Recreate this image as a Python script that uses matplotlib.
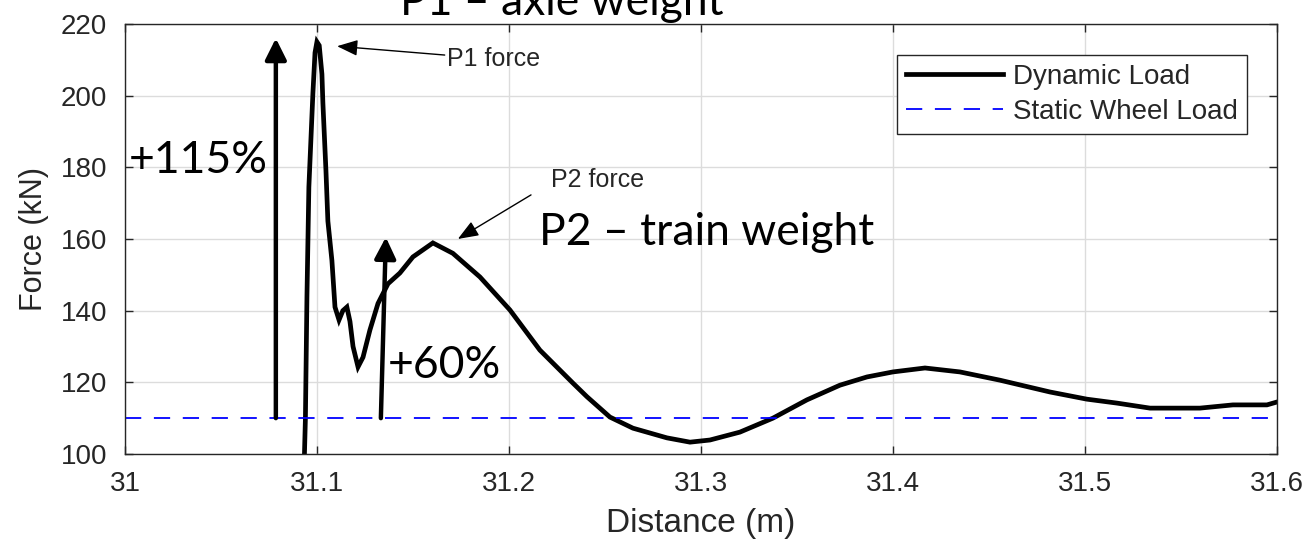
import matplotlib
matplotlib.use("Agg")
import matplotlib.pyplot as plt

# Dynamic wheel load (distance in m, force in kN)
distance = [31.0930, 31.0935, 31.0940, 31.0948, 31.0958, 31.0979, 31.0990, 31.1000,
            31.1012, 31.1026, 31.1031, 31.1047, 31.1057, 31.1078, 31.1094, 31.1115,
            31.1135, 31.1156, 31.1172, 31.1188, 31.1214, 31.1240, 31.1276, 31.1318,
            31.1370, 31.1432, 31.1500, 31.1604, 31.1708, 31.1849, 31.2005, 31.2161,
            31.2333, 31.2406, 31.2526, 31.2646, 31.2823, 31.2943, 31.3047, 31.3203,
            31.3375, 31.3552, 31.3724, 31.3865, 31.4000, 31.4167, 31.4349, 31.4557,
            31.4818, 31.5010, 31.5167, 31.5339, 31.5599, 31.5771, 31.5948, 31.6000]
dynamic_load = [95.0, 100.0, 110.0, 144.0, 174.5, 200.7, 212.0, 215.0,
                214.0, 206.0, 198.0, 179.0, 165.0, 154.0, 141.0, 137.4,
                140.0, 141.0, 137.0, 130.0, 124.3, 127.0, 134.6, 142.0,
                147.5, 150.5, 155.0, 158.9, 156.0, 149.4, 140.2, 129.0,
                119.8, 116.0, 110.3, 107.2, 104.5, 103.3, 103.9, 106.1,
                110.0, 115.1, 119.2, 121.5, 122.9, 124.0, 122.9, 120.6,
                117.3, 115.3, 114.2, 112.8, 112.8, 113.7, 113.7, 114.5]
static_load = 110.0

x_ticks = [31, 31.1, 31.2, 31.3, 31.4, 31.5, 31.6]
x_tick_labels = ["31", "31.1", "31.2", "31.3", "31.4", "31.5", "31.6"]
y_ticks = [100, 120, 140, 160, 180, 200, 220]

axis_font = "Liberation Sans"
note_font = ["Lato", "DejaVu Sans"]
dark = "#262626"

fig = plt.figure(figsize=(13.11, 5.45), dpi=100)
ax = fig.add_axes([0.0953, 0.167, 0.8787, 0.789])

ax.plot(distance, dynamic_load, color="black", lw=3.4, label="Dynamic Load",
        solid_joinstyle="miter")
ax.axhline(static_load, color="blue", lw=1.3, dashes=(9, 7), label="Static Wheel Load")

ax.set_xlim(31, 31.6)
ax.set_ylim(100, 220)
ax.set_xticks(x_ticks)
ax.set_xticklabels(x_tick_labels)
ax.set_yticks(y_ticks)
ax.grid(True, color="#dcdcdc", lw=1)
ax.set_axisbelow(True)
ax.tick_params(direction="in", length=6, width=1, color=dark, top=True, right=True,
               labelsize=20, labelcolor=dark)
ax.tick_params(axis="x", pad=12)
ax.tick_params(axis="y", pad=13)
for lbl in ax.get_xticklabels() + ax.get_yticklabels():
    lbl.set_fontfamily(axis_font)
for sp in ax.spines.values():
    sp.set_color(dark)
    sp.set_linewidth(1)

ax.set_xlabel("Distance (m)", fontsize=24, color=dark, family=axis_font, labelpad=8)
ax.set_ylabel("Force (kN)", fontsize=22, color=dark, family=axis_font, labelpad=8)

leg = ax.legend(loc="upper right", bbox_to_anchor=(0.974, 0.928), borderaxespad=0,
                fancybox=False, framealpha=1, edgecolor=dark, handlelength=3.5,
                handletextpad=0.36, labelspacing=0.32, borderpad=0.32,
                prop={"family": axis_font, "size": 20})
leg.get_frame().set_linewidth(1)
for t in leg.get_texts():
    t.set_color(dark)

# big percentage arrows
ax.annotate("", xy=(31.0786, 216), xytext=(31.0786, 110),
            arrowprops=dict(arrowstyle="-|>", lw=3.2, color="black", mutation_scale=32,
                            shrinkA=0, shrinkB=0))
ax.annotate("", xy=(31.1359, 160.5), xytext=(31.1333, 110),
            arrowprops=dict(arrowstyle="-|>", lw=3.2, color="black", mutation_scale=32,
                            shrinkA=0, shrinkB=0))
ax.text(31.002, 182, "+115%", fontsize=32, family=note_font, va="center", ha="left")
ax.text(31.137, 124.8, "+60%", fontsize=32, family=note_font, va="center", ha="left")
ax.text(31.2156, 161.7, "P2 \u2013 train weight", fontsize=32, family=note_font,
        va="center", ha="left")
fig.text(400 / 1311, 1 - 15 / 545, "P1 \u2013 axle weight", fontsize=32,
         family=note_font, va="baseline", ha="left")

# small force labels with thin arrows
thin = dict(arrowstyle="-|>,head_length=0.9,head_width=0.35", lw=1, color="black",
            shrinkA=0, shrinkB=0, mutation_scale=14)
ax.annotate("P1 force", xy=(31.1105, 213.8), xytext=(31.168, 210.2), fontsize=18,
            family=axis_font, color=dark, va="center", ha="left",
            arrowprops=thin)
ax.annotate("", xy=(31.1734, 160), xytext=(31.2115, 172.3), arrowprops=thin)
ax.text(31.2220, 176.5, "P2 force", fontsize=18, family=axis_font, color=dark,
        va="center", ha="left")

fig.savefig("out.png", dpi=100)
